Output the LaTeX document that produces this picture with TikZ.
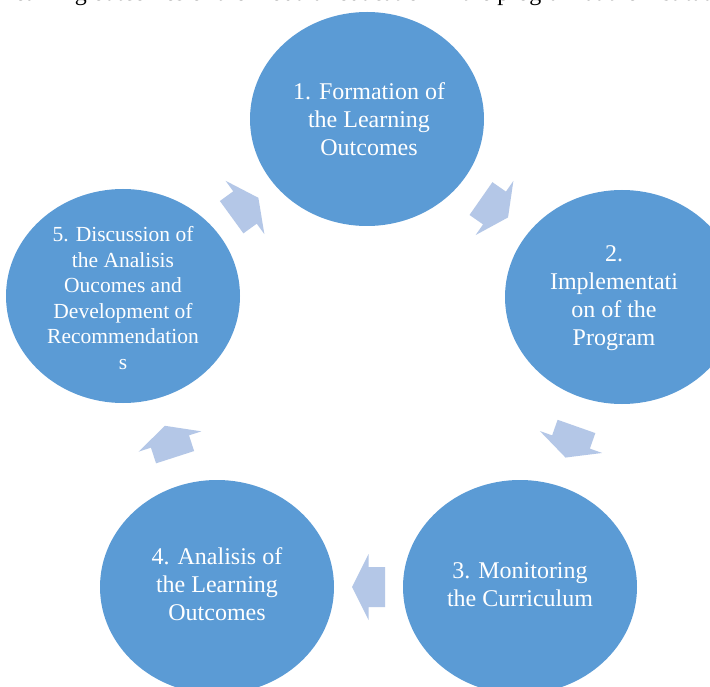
\documentclass[tikz,border=0pt]{standalone}
\usepackage{fontspec}
\setmainfont{Liberation Serif}
\usetikzlibrary{shapes.geometric,calc}
\definecolor{circblue}{HTML}{5B9BD5}
\definecolor{arrblue}{HTML}{B4C7E7}
\tikzset{
  stage/.style={ellipse, fill=circblue, draw=none, minimum width=234pt, minimum height=214pt, inner sep=0pt},
  stagetext/.style={text=white, align=center, inner sep=0pt, font=\fontsize{24}{28}\selectfont},
  smalltext/.style={text=white, align=center, inner sep=0pt, font=\fontsize{21.5}{25.5}\selectfont},
  toptextstyle/.style={anchor=base west, inner sep=0pt, font=\fontsize{24}{28}\selectfont},
  blockarrow/.pic={\fill[arrblue] (-16.5,-20) -- (0,-20) -- (0,-33) -- (16.5,0) -- (0,33) -- (0,20) -- (-16.5,20) -- cycle;}
}
\begin{document}
\begin{tikzpicture}[x=1pt,y=-1pt]
\useasboundingbox (0,0) rectangle (710,687);
\clip (0,0) rectangle (710,687);
\fill[white] (0,0) rectangle (710,687);
% clipped line of text at the top
\node[toptextstyle] (toptext) at (0,0.5) {Learning outcomes of the modular education in the program at the institutes};
% stages
\node[stage] (c1) at (367,119) {};
\node[stage] (c2) at (622,297) {};
\node[stage] (c3) at (520,587) {};
\node[stage] (c4) at (217,587) {};
\node[stage] (c5) at (123,296) {};
\node[stagetext] (t1) at (369,119) {1. Formation of\\the Learning\\Outcomes};
\node[stagetext] (t2) at (614,298) {2.\\Implementati\\on of the\\Program};
\node[stagetext] (t3) at (520,585) {3. Monitoring\\the Curriculum};
\node[stagetext] (t4) at (217,584) {4. Analisis of\\the Learning\\Outcomes};
\node[smalltext] (t5) at (123,298) {5. Discussion of\\the Analisis\\Oucomes and\\Development of\\Recommendation\\s};
% arrows (rotation = visual direction from one stage to the next)
\pic[rotate=-34.9] at ($(c1.center)!0.5!(c2.center)$) {blockarrow};
\pic[rotate=-109.4] at ($(c2.center)!0.5!(c3.center)$) {blockarrow};
\pic[rotate=180] at ($(c3.center)!0.5!(c4.center)$) {blockarrow};
\pic[rotate=107.9] at ($(c4.center)!0.5!(c5.center)$) {blockarrow};
\pic[rotate=36.0] at ($(c5.center)!0.5!(c1.center)$) {blockarrow};
\end{tikzpicture}
\end{document}
